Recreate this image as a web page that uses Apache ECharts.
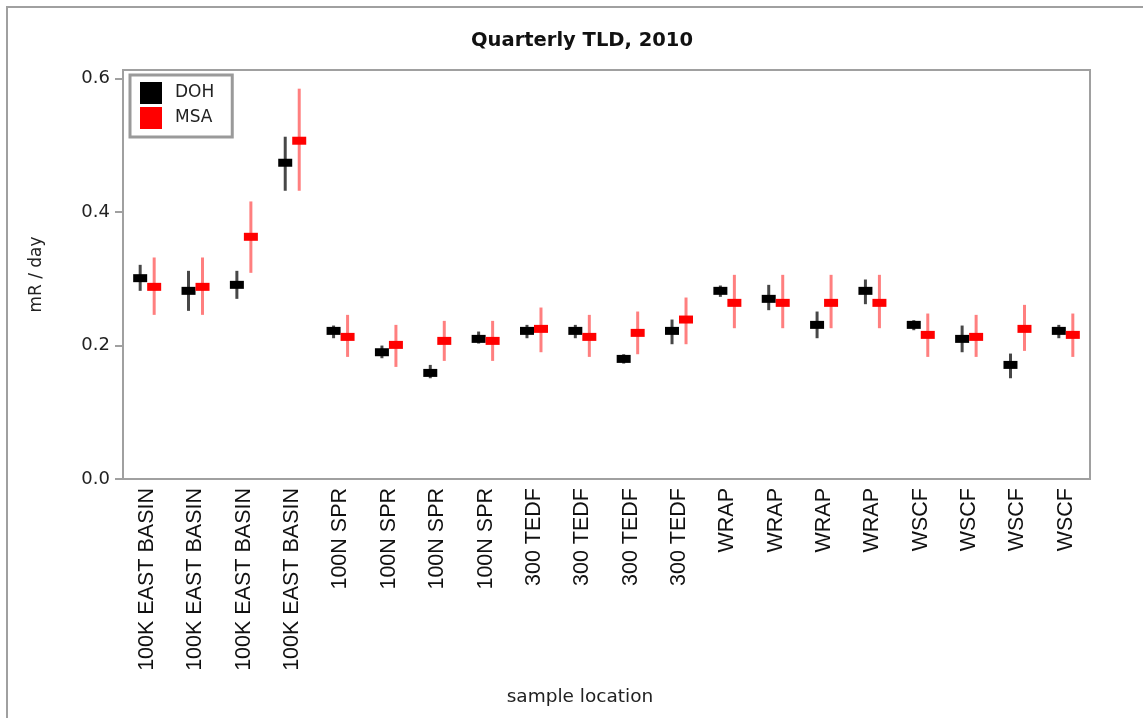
<!DOCTYPE html>
<html>
<head>
<meta charset="utf-8">
<script src="https://cdn.jsdelivr.net/npm/echarts@6/dist/echarts.min.js"></script>
<style>
html,body{margin:0;padding:0;background:#fff;}
#chart{width:1143px;height:718px;}
</style>
</head>
<body>
<div id="chart"></div>
<script>
const categories = [
  '100K EAST BASIN','100K EAST BASIN','100K EAST BASIN','100K EAST BASIN',
  '100N SPR','100N SPR','100N SPR','100N SPR',
  '300 TEDF','300 TEDF','300 TEDF','300 TEDF',
  'WRAP','WRAP','WRAP','WRAP',
  'WSCF','WSCF','WSCF','WSCF'
];
const dohValue = [0.301,0.282,0.291,0.474, 0.222,0.190,0.159,0.210, 0.222,0.222,0.180,0.222, 0.282,0.270,0.231,0.282, 0.231,0.210,0.171,0.222];
const dohLow   = [0.282,0.252,0.270,0.432, 0.211,0.181,0.151,0.203, 0.211,0.211,0.173,0.202, 0.273,0.253,0.211,0.262, 0.223,0.190,0.151,0.211];
const dohHigh  = [0.321,0.312,0.312,0.513, 0.230,0.200,0.171,0.221, 0.231,0.231,0.187,0.239, 0.290,0.291,0.251,0.299, 0.238,0.230,0.188,0.231];
const msaValue = [0.288,0.288,0.363,0.507, 0.213,0.201,0.207,0.207, 0.225,0.213,0.219,0.239, 0.264,0.264,0.264,0.264, 0.216,0.213,0.225,0.216];
const msaLow   = [0.246,0.246,0.309,0.432, 0.183,0.168,0.177,0.177, 0.190,0.183,0.187,0.202, 0.226,0.226,0.226,0.226, 0.183,0.183,0.192,0.183];
const msaHigh  = [0.332,0.332,0.416,0.585, 0.246,0.231,0.237,0.237, 0.257,0.246,0.251,0.272, 0.306,0.306,0.306,0.306, 0.248,0.246,0.261,0.248];
const yTicks = [0, 0.2, 0.4, 0.6];

function build(v, lo, hi) {
  return categories.map((c, i) => [i, v[i], lo[i], hi[i]]);
}
function makeRender(offset, barColor, markColor) {
  return function (params, api) {
    const i = api.value(0);
    const c = api.coord([i, api.value(1)]);
    const l = api.coord([i, api.value(2)]);
    const h = api.coord([i, api.value(3)]);
    const x = c[0] + offset;
    return {
      type: 'group',
      children: [
        { type: 'line', shape: { x1: x, y1: h[1], x2: x, y2: l[1] }, style: { stroke: barColor, lineWidth: 3 } },
        { type: 'rect', shape: { x: x - 7, y: c[1] - 4, width: 14, height: 8 }, style: { fill: markColor } }
      ]
    };
  };
}

const FONT = 'DejaVu Sans';
const ARIAL = 'Liberation Sans';
const chart = echarts.init(document.getElementById('chart'), null, { renderer: 'canvas' });
chart.setOption({
  backgroundColor: '#fff',
  animation: false,
  textStyle: { fontFamily: FONT },
  title: [
    { text: 'Quarterly TLD, 2010', left: 577, top: 26, textAlign: 'center',
      textStyle: { fontFamily: FONT, fontSize: 19.5, fontWeight: 'bold', color: '#111' } },
    { text: 'sample location', left: 575, top: 683, textAlign: 'center',
      textStyle: { fontFamily: FONT, fontSize: 18.5, fontWeight: 'normal', color: '#222' } }
  ],
  graphic: [
    { type: 'rect', shape: { x: 7, y: 7, width: 1200, height: 800 },
      style: { fill: 'none', stroke: '#a0a0a0', lineWidth: 2 }, silent: true, z: -1 }
  ],
  legend: {
    orient: 'vertical', left: 130, top: 75,
    padding: [7, 18, 8, 10],
    itemWidth: 22, itemHeight: 22, itemGap: 3,
    itemStyle: { borderWidth: 0 },
    borderColor: '#9a9a9a', borderWidth: 3,
    textStyle: { fontFamily: FONT, fontSize: 17, color: '#222', padding: [0, 0, 0, 8] },
    data: [{ name: 'DOH', icon: 'rect' }, { name: 'MSA', icon: 'rect' }]
  },
  grid: { left: 123, right: 53, top: 70, bottom: 239, show: true, borderColor: '#a0a0a0', borderWidth: 2 },
  xAxis: {
    type: 'category', data: categories,
    axisLine: { lineStyle: { color: '#a0a0a0', width: 2 } },
    axisTick: { alignWithLabel: true, length: 7, lineStyle: { color: '#a0a0a0', width: 2 } },
    axisLabel: { rotate: 90, interval: 0, fontFamily: ARIAL, fontSize: 21.5, color: '#111', margin: 9 }
  },
  yAxis: {
    type: 'value', min: 0, max: 0.613, interval: 0.2,
    name: 'mR / day', nameLocation: 'middle', nameGap: 78, nameRotate: 90,
    nameTextStyle: { fontFamily: FONT, fontSize: 17, color: '#222' },
    axisLine: { show: true, lineStyle: { color: '#a0a0a0', width: 2 } },
    axisTick: { show: true, length: 8, customValues: yTicks, lineStyle: { color: '#a0a0a0', width: 2 } },
    axisLabel: { customValues: yTicks, formatter: v => v.toFixed(1), fontFamily: FONT, fontSize: 18, color: '#222', margin: 13 },
    splitLine: { show: false }
  },
  series: [
    { name: 'DOH', type: 'custom', itemStyle: { color: '#000' },
      renderItem: makeRender(-7, 'rgba(0,0,0,0.72)', '#000'),
      encode: { x: 0, y: [1, 2, 3] }, data: build(dohValue, dohLow, dohHigh) },
    { name: 'MSA', type: 'custom', itemStyle: { color: '#ff0000' },
      renderItem: makeRender(7, 'rgba(255,0,0,0.5)', '#ff0000'),
      encode: { x: 0, y: [1, 2, 3] }, data: build(msaValue, msaLow, msaHigh) }
  ]
});
</script>
</body>
</html>
